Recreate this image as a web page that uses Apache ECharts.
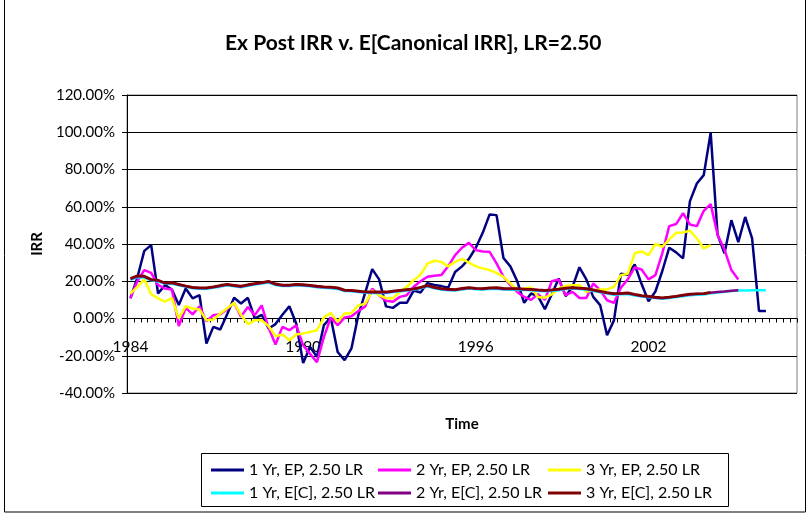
<!DOCTYPE html>
<html>
<head>
<meta charset="utf-8">
<script src="https://cdn.jsdelivr.net/npm/echarts@6/dist/echarts.min.js"></script>
<style>
  html, body { margin: 0; padding: 0; background: #fff; }
  #chart { width: 807px; height: 514px; }
</style>
</head>
<body>
<div id="chart"></div>
<script>
// x axis: 97 periods, a year label every 25th period
const yearLabels = ['1984', '1990', '1996', '2002']
const periodCount = 97
const labelStep = 25

// IRR values in percent
const ep1 = [10.8, 22, 36.3, 39.4, 13.4, 17.9, 15.6, 7.2, 16.1, 10.8, 12.5, -13.4, -4.5, -5.9, 2.3, 11.1, 8.1, 11.1, 0, 2,
  -5.4, -3, 2, 6.6, -2.7, -23.9, -15.3, -20.6, -3.6, 0.5, -18, -22.4, -16, 2, 14, 26.5, 21, 6.5, 5.7, 8.4,
  8.4, 15, 14, 19, 18, 17.4, 16.5, 25, 28, 32, 38, 46, 55.9, 55.5, 32.5, 28, 20, 8.4, 13.4, 12,
  5, 13, 21.5, 12, 17, 27.5, 21, 11.6, 7.2, -9, -1, 24, 23.5, 29, 18.5, 9.3, 14.5, 25.5, 38, 35.5,
  32.3, 63, 72.5, 77, 99.8, 45, 35, 52.8, 41, 54.5, 43, 4, 4]

const ep2 = [11, 20, 26, 24.5, 18, 16.1, 15.6, -4, 5.7, 2.2, 6.6, -1.5, 1.8, 2.3, 5, 8.4, 1, 6.2, 1.8, 7,
  -5, -14, -4.5, -6.3, -3.6, -14.4, -19, -23.5, -10, 0.5, -3.6, 0.5, 1.2, 4, 6.5, 16, 12.5, 9.5, 9, 11.6,
  12.5, 17, 20, 22.4, 23, 23.3, 28, 34, 38, 40.6, 36.7, 36, 35.8, 29.6, 22.4, 17.9, 14.3, 11.6, 10, 13,
  10, 20, 21, 12.5, 14.3, 11, 11, 18.8, 15.2, 9.8, 8.4, 16.5, 21, 27.4, 26.3, 21, 23.3, 35, 49.6, 50.7,
  56.5, 50.5, 49.6, 57.8, 61.4, 45, 37, 26, 21]

const ep3 = [13.4, 17, 21, 13, 10.8, 9, 11, 0, 6.6, 5.4, 4.8, -0.9, -0.5, 2.7, 5.5, 8.4, 2, -3, -1, -1,
  -4, -9.5, -8.6, -11.7, -8.6, -8, -7.2, -6.3, 0.5, 3, -1.8, 2.7, 3, 7, 8, 15, 12.5, 11, 10.8, 14.3,
  17, 20.6, 23.5, 29.5, 31, 30.4, 28, 30.4, 32, 30, 28, 26.9, 26, 24.5, 22.4, 18.8, 15.2, 16.1, 16.7, 11.6,
  11.2, 13, 16, 17.5, 17.9, 17.9, 14.3, 15.2, 15.6, 15.6, 17, 23.3, 24, 35, 36, 34, 40, 38.5, 42.5, 46,
  46.2, 47.1, 43, 37.6, 39.4]

const ec1 = [20.8, 22.2, 22, 20.5, 19.9, 18.6, 18.7, 17.8, 17, 16.2, 16, 15.9, 16.5, 17.2, 17.8, 17.3, 16.8, 17.6, 18.2, 18.8,
  19.3, 18, 17.4, 17.5, 17.8, 17.6, 17.3, 16.8, 16.5, 16.3, 15.9, 14.8, 14.6, 14.2, 13.8, 13.7, 13.8, 13.7, 14.2, 14.6,
  15, 15.4, 16.2, 17.1, 16.2, 15.5, 15.2, 15, 15.6, 16.1, 15.7, 15.5, 15.9, 16, 15.6, 15.5, 15.5, 15.3, 15.1, 14.8,
  14.6, 14.8, 15.2, 15.8, 16.1, 15.8, 15.5, 14.8, 14.1, 13.4, 12.8, 13, 13.2, 12.4, 11.8, 11.4, 11, 10.6, 11, 11.5,
  12, 12.5, 12.7, 12.9, 13.5, 14, 14.4, 14.7, 15, 15.1, 15.2, 15.2, 15.2]

const ec2 = [21.2, 22.7, 22.5, 20.8, 20.3, 18.9, 19, 18.1, 17.3, 16.5, 16.2, 16.2, 16.8, 17.5, 18.1, 17.6, 17.1, 17.9, 18.5, 19.1,
  19.7, 18.3, 17.7, 17.7, 18.1, 17.9, 17.6, 17.1, 16.8, 16.6, 16.2, 15, 14.9, 14.5, 14.1, 14, 14, 14, 14.5, 14.9,
  15.3, 15.7, 16.5, 17.5, 16.5, 15.8, 15.5, 15.3, 15.9, 16.4, 16, 15.8, 16.2, 16.3, 15.9, 15.8, 15.8, 15.6, 15.4, 15.1,
  14.9, 15.1, 15.5, 16.1, 16.4, 16.1, 15.8, 15.1, 14.4, 13.7, 13.1, 13.3, 13.5, 12.7, 12.1, 11.7, 11.2, 10.9, 11.3, 11.8,
  12.3, 12.9, 13.1, 13.3, 13.8, 14.2, 14.5, 14.9, 15.2]

const ec3 = [21.5, 23, 22.8, 21, 20.6, 19.1, 19.3, 18.4, 17.5, 16.8, 16.5, 16.5, 17, 17.8, 18.4, 17.9, 17.4, 18.2, 18.8, 19.4,
  20, 18.6, 18, 18, 18.4, 18.2, 17.9, 17.4, 17.1, 16.9, 16.5, 15.3, 15.2, 14.8, 14.4, 14.3, 14.3, 14.3, 14.8, 15.2,
  15.6, 16, 16.8, 17.8, 16.8, 16.1, 15.8, 15.6, 16.2, 16.7, 16.3, 16.1, 16.5, 16.6, 16.2, 16.1, 16.1, 15.9, 15.7, 15.4,
  15.2, 15.4, 15.8, 16.4, 16.7, 16.4, 16.1, 15.4, 14.7, 14, 13.4, 13.6, 13.8, 13, 12.4, 12, 11.5, 11.1, 11.5, 12,
  12.6, 13.1, 13.3, 13.4, 14.1]

const seriesNames = [
  '1 Yr, EP, 2.50 LR', '2 Yr, EP, 2.50 LR', '3 Yr, EP, 2.50 LR',
  '1 Yr, E[C], 2.50 LR', '2 Yr, E[C], 2.50 LR', '3 Yr, E[C], 2.50 LR'
]
const seriesData = [ep1, ep2, ep3, ec1, ec2, ec3]
const colors = ['#000080', '#ff00ff', '#ffff00', '#00ffff', '#800080', '#800000']

const categories = []
for (let i = 0; i < periodCount; i++) {
  categories.push(i % labelStep === 0 ? (yearLabels[i / labelStep] || '') : '')
}

const font = 'Lato, "Open Sans", sans-serif'
const chart = echarts.init(document.getElementById('chart'))

const legendCol = (names, left) => ({
  data: names,
  orient: 'vertical',
  left: left,
  top: 457,
  itemGap: 7,
  itemWidth: 33,
  itemHeight: 3,
  icon: 'rect',
  textStyle: { fontFamily: font, fontSize: 16, color: '#000' }
})

chart.setOption({
  animation: false,
  backgroundColor: '#fff',
  color: colors,
  title: {
    text: 'Ex Post IRR v. E[Canonical IRR], LR=2.50',
    left: 220,
    top: 28,
    textStyle: { fontFamily: font, fontSize: 21, fontWeight: 'bold', color: '#000' }
  },
  legend: [
    legendCol([seriesNames[0], seriesNames[3]], 206),
    legendCol([seriesNames[1], seriesNames[4]], 373),
    legendCol([seriesNames[2], seriesNames[5]], 543)
  ],
  graphic: [
    {
      type: 'rect',
      shape: { x: 201.5, y: 453.5, width: 527, height: 53 },
      style: { fill: 'none', stroke: '#000', lineWidth: 1 },
      silent: true
    },
    {
      type: 'rect',
      shape: { x: 4.5, y: -2, width: 801, height: 514 },
      style: { fill: 'none', stroke: '#000', lineWidth: 1 },
      silent: true
    }
  ],
  grid: {
    left: 127,
    right: 10,
    top: 95,
    bottom: 121,
    show: true,
    borderColor: '#808080',
    borderWidth: 1
  },
  xAxis: {
    type: 'category',
    data: categories,
    boundaryGap: true,
    name: 'Time',
    nameLocation: 'middle',
    nameGap: 24,
    nameTextStyle: { fontFamily: font, fontSize: 15, fontWeight: 'bold', color: '#000' },
    axisLine: { onZero: true, lineStyle: { color: '#000', width: 1 } },
    axisTick: { show: true, interval: 0, length: 4, lineStyle: { color: '#000' } },
    axisLabel: { interval: 0, margin: -54, fontFamily: font, fontSize: 15.5, color: '#000' },
    splitLine: { show: false }
  },
  yAxis: {
    type: 'value',
    min: -40,
    max: 120,
    interval: 20,
    name: 'IRR',
    nameLocation: 'middle',
    nameRotate: 90,
    nameGap: 82,
    nameTextStyle: { fontFamily: font, fontSize: 15, fontWeight: 'bold', color: '#000' },
    axisLine: { show: true, lineStyle: { color: '#000', width: 1 } },
    axisTick: { show: true, length: 5, lineStyle: { color: '#000' } },
    axisLabel: {
      margin: 12,
      fontFamily: font,
      fontSize: 15,
      color: '#000',
      formatter: v => v.toFixed(2) + '%'
    },
    splitLine: { lineStyle: { color: '#000', width: 1 } }
  },
  series: seriesNames.map((name, k) => ({
    name: name,
    type: 'line',
    data: seriesData[k],
    symbol: 'none',
    lineStyle: { width: 2.5, color: colors[k] },
    itemStyle: { color: colors[k] }
  }))
})
</script>
</body>
</html>
